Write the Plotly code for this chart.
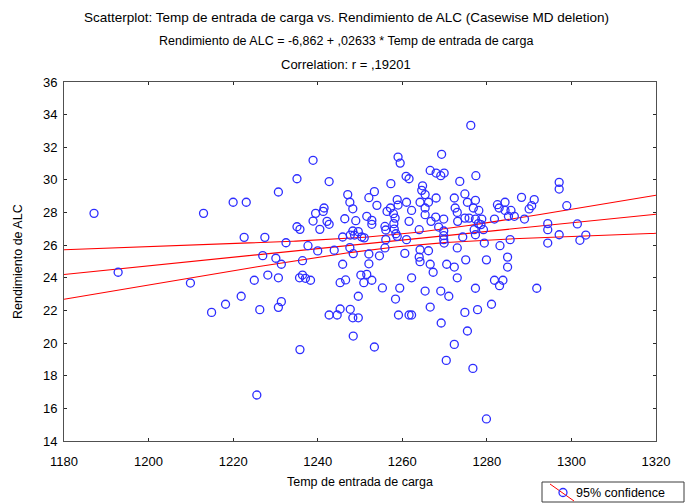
import numpy as np
import plotly.graph_objects as go

# Temp de entrada de carga (x) and Rendimiento de ALC (y)
temp = [
    1187.1, 1213.0, 1192.8, 1209.9, 1214.9,
    1238.9, 1235.1, 1230.7, 1220.0, 1223.1, 1239.5, 1238.9, 1235.1, 1235.8, 1240.5,
    1222.6, 1227.5, 1232.5, 1237.7, 1240.0, 1227.0, 1230.1, 1236.4,
    1231.4, 1225.0, 1228.2, 1230.7, 1235.7, 1236.4, 1237.1, 1238.3, 1221.9, 1218.2,
    1226.3, 1230.7, 1231.4, 1235.8, 1225.6,
    1259.0, 1259.5, 1242.7, 1257.3, 1247.1, 1253.4, 1252.1, 1247.6, 1248.3, 1254.0,
    1258.8, 1241.5, 1241.3, 1257.2, 1256.4, 1257.9, 1258.3, 1242.2, 1242.7, 1246.4,
    1249.0, 1251.6, 1252.8, 1252.8, 1258.0, 1255.9, 1256.1, 1258.1, 1258.5, 1248.3,
    1249.6, 1248.7, 1250.4, 1251.0, 1245.9, 1247.7, 1256.1, 1258.8, 1243.9, 1247.6,
    1248.4, 1252.1, 1254.6, 1255.9,
    1245.9, 1252.1, 1250.2, 1251.6, 1246.6, 1245.3, 1250.9, 1252.8, 1255.3, 1259.4,
    1249.6, 1258.4, 1245.3, 1247.7, 1242.7, 1244.6, 1248.3, 1249.6, 1259.1, 1248.4,
    1253.4,
    1276.2, 1269.3, 1266.6, 1268.0, 1269.9, 1269.1, 1260.9, 1261.6, 1273.6, 1277.4,
    1264.8, 1264.6, 1265.4, 1274.8, 1272.3, 1268.0, 1275.4, 1277.3, 1259.0, 1261.0,
    1264.2, 1266.2, 1265.4, 1272.5, 1276.8, 1262.2, 1265.4, 1273.0, 1266.8, 1267.9,
    1269.8, 1261.6, 1274.8, 1273.1, 1275.8, 1277.3, 1278.0, 1264.0, 1268.6, 1269.8,
    1269.8, 1277.0, 1277.3, 1261.0, 1269.8, 1274.3, 1269.9, 1273.0, 1260.6, 1264.2,
    1266.2, 1264.0, 1275.0,
    1264.2, 1266.6, 1270.5, 1272.3, 1267.3, 1262.2, 1273.0, 1265.4, 1269.1, 1271.0,
    1277.3, 1266.6, 1261.6, 1262.2, 1274.8, 1277.8, 1269.2, 1275.4, 1272.3, 1270.4,
    1276.7,
    1297.1, 1297.1, 1278.1, 1288.2, 1291.2, 1284.3, 1282.5, 1282.9, 1290.6, 1290.0,
    1284.3, 1285.7, 1286.5, 1285.1, 1281.8, 1278.8, 1288.9, 1278.6, 1279.2, 1294.4,
    1294.4, 1297.1, 1279.4, 1285.5, 1283.1, 1294.4, 1279.9, 1284.9,
    1284.9, 1281.8, 1283.8, 1283.0, 1291.8, 1281.1, 1279.9,
    1298.9, 1301.4, 1302.0, 1303.4,
]
rendimiento = [
    27.95, 27.95, 24.34, 23.68, 21.88,
    31.20, 30.07, 29.26, 28.63, 28.63, 27.95, 27.48, 27.13, 26.97, 26.97,
    26.48, 26.48, 26.15, 25.97, 25.65, 25.36, 25.20, 25.05,
    24.83, 23.85, 24.17, 24.00, 24.00, 24.17, 23.97, 23.85, 22.87, 22.38,
    22.05, 22.19, 22.54, 19.60, 16.82,
    31.40, 31.03, 29.90, 29.77, 29.10, 29.28, 28.91, 28.63, 28.23, 28.44,
    28.79, 28.28, 28.07, 28.28, 28.07, 27.93, 27.66, 27.46, 27.28, 27.62,
    27.50, 27.77, 27.52, 27.28, 27.32, 27.15, 26.93, 26.99, 26.70, 26.87,
    26.83, 26.62, 26.50, 26.45, 26.50, 26.62, 26.34, 26.54, 25.69, 25.85,
    25.48, 25.46, 25.35, 25.83,
    24.83, 24.86, 24.17, 24.21, 23.87, 23.70, 23.70, 23.85, 23.38, 23.37,
    22.87, 22.70, 22.09, 22.07, 21.72, 21.72, 21.55, 21.55, 21.72, 20.43,
    19.76,
    33.34, 31.57, 30.58, 30.42, 30.42, 30.26, 30.22, 30.07, 29.91, 30.26,
    29.64, 29.36, 29.10, 29.14, 28.89, 28.89, 28.63, 28.75, 28.46, 28.63,
    28.63, 28.63, 28.28, 28.28, 28.28, 28.13, 27.87, 28.01, 27.46, 27.72,
    27.60, 27.46, 27.66, 27.46, 27.66, 27.60, 27.32, 26.95, 27.11, 26.87,
    26.58, 26.95, 26.64, 26.34, 26.34, 26.50, 26.13, 25.83, 25.50, 25.72,
    25.66, 25.27, 25.10,
    24.99, 24.83, 24.83, 24.66, 24.34, 24.00, 24.00, 23.19, 23.19, 22.87,
    23.36, 22.21, 21.72, 21.72, 21.88, 22.05, 21.23, 20.74, 19.92, 18.94,
    18.45,
    29.85, 29.44, 28.13, 28.93, 28.79, 28.63, 28.48, 28.28, 28.42, 28.22,
    28.13, 28.13, 27.77, 27.77, 27.60, 27.60, 27.60, 27.26, 26.95, 27.32,
    26.95, 26.64, 26.13, 26.34, 25.97, 26.13, 25.10, 25.27,
    24.66, 23.85, 23.85, 23.52, 23.36, 22.38, 15.35,
    28.42, 27.30, 26.30, 26.62,
]

# Fitted regression: Rendimiento de ALC = -6,862 + ,02633 * Temp
INTERCEPT = -6.862
SLOPE = 0.02633
T_95 = 1.971  # two-sided 95% t quantile, df ~ 214

x_ticks = [1180, 1200, 1220, 1240, 1260, 1280, 1300, 1320]
y_ticks = [14, 16, 18, 20, 22, 24, 26, 28, 30, 32, 34, 36]

x = np.array(temp)
y = np.array(rendimiento)
n = len(x)
resid = y - (INTERCEPT + SLOPE * x)
s = np.sqrt(np.sum(resid ** 2) / (n - 2))
sxx = np.sum((x - x.mean()) ** 2)

xg = np.linspace(x_ticks[0], x_ticks[-1], 200)
yg = INTERCEPT + SLOPE * xg
half = T_95 * s * np.sqrt(1.0 / n + (xg - x.mean()) ** 2 / sxx)

FONT = "Liberation Sans, Arial, sans-serif"
RED = "rgb(255,0,0)"
BLUE = "rgb(45,45,255)"

fig = go.Figure()
for band in (yg + half, yg, yg - half):
    fig.add_trace(go.Scatter(x=xg, y=band, mode="lines",
                             line=dict(color=RED, width=1.1),
                             hoverinfo="skip", showlegend=False))
fig.add_trace(go.Scatter(
    x=temp, y=rendimiento, mode="markers",
    marker=dict(symbol="circle-open", size=8, color=BLUE, line=dict(width=1.3, color=BLUE)),
    showlegend=False,
))

axis_common = dict(
    showgrid=False, zeroline=False, showline=True, linecolor="rgb(80,80,80)", linewidth=1,
    mirror="ticks", ticks="inside", ticklen=3, tickcolor="rgb(40,40,40)", tickwidth=1,
    tickfont=dict(family=FONT, size=13, color="black"),
)

fig.update_layout(
    width=692, height=504,
    margin=dict(l=64, r=36, t=82, b=63),
    paper_bgcolor="white", plot_bgcolor="white",
    showlegend=False,
    xaxis=dict(range=[1180, 1320], tickvals=x_ticks, ticktext=[str(v) for v in x_ticks],
               ticklabelstandoff=8, **axis_common),
    yaxis=dict(range=[14, 36], tickvals=y_ticks, ticktext=[str(v) for v in y_ticks],
               ticklabelstandoff=3, **axis_common),
)

title_lines = [
    ("Scatterplot: Temp de entrada de carga vs. Rendimiento de ALC (Casewise MD deletion)", 17, 13.5),
    ("Rendimiento de ALC = -6,862 + ,02633 * Temp de entrada de carga", 41, 12.5),
    ("Correlation: r = ,19201", 64, 13),
]

# pixel helpers for the 692x504 canvas (plot area 64..656 x 82..441)
PL, PR, PT, PB = 64, 656, 82, 441
def px(xp):
    return (xp - PL) / (PR - PL)
def py(yp):
    return (PB - yp) / (PB - PT)

for text, ypix, fsize in title_lines:
    fig.add_annotation(text=text, xref="paper", yref="paper", x=px(346), y=py(ypix),
                       showarrow=False, xanchor="center", yanchor="middle",
                       font=dict(family=FONT, size=fsize, color="black"))

fig.add_annotation(text="Temp de entrada de carga", xref="paper", yref="paper",
                   x=px(360), y=py(482), showarrow=False, xanchor="center", yanchor="middle",
                   font=dict(family=FONT, size=12.5, color="black"))
fig.add_annotation(text="Rendimiento de ALC", xref="paper", yref="paper",
                   x=px(18), y=py(262), showarrow=False, textangle=-90,
                   xanchor="center", yanchor="middle",
                   font=dict(family=FONT, size=12.5, color="black"))

# legend box: red line through an open circle, then the label
fig.add_shape(type="rect", xref="paper", yref="paper",
              x0=px(542), x1=px(684), y0=py(502), y1=py(482),
              line=dict(color="rgb(60,60,60)", width=1), fillcolor="white")
fig.add_shape(type="line", xref="paper", yref="paper",
              x0=px(550), x1=px(574), y0=py(484), y1=py(501),
              line=dict(color=RED, width=1))
fig.add_shape(type="circle", xref="paper", yref="paper",
              x0=px(559), x1=px(567), y0=py(496.5), y1=py(488.5),
              line=dict(color=BLUE, width=1.3))
fig.add_annotation(text="95% confidence", xref="paper", yref="paper",
                   x=px(574), y=py(492.5), showarrow=False, xanchor="left", yanchor="middle",
                   font=dict(family=FONT, size=12.5, color="black"))

fig.write_html("out.html")
